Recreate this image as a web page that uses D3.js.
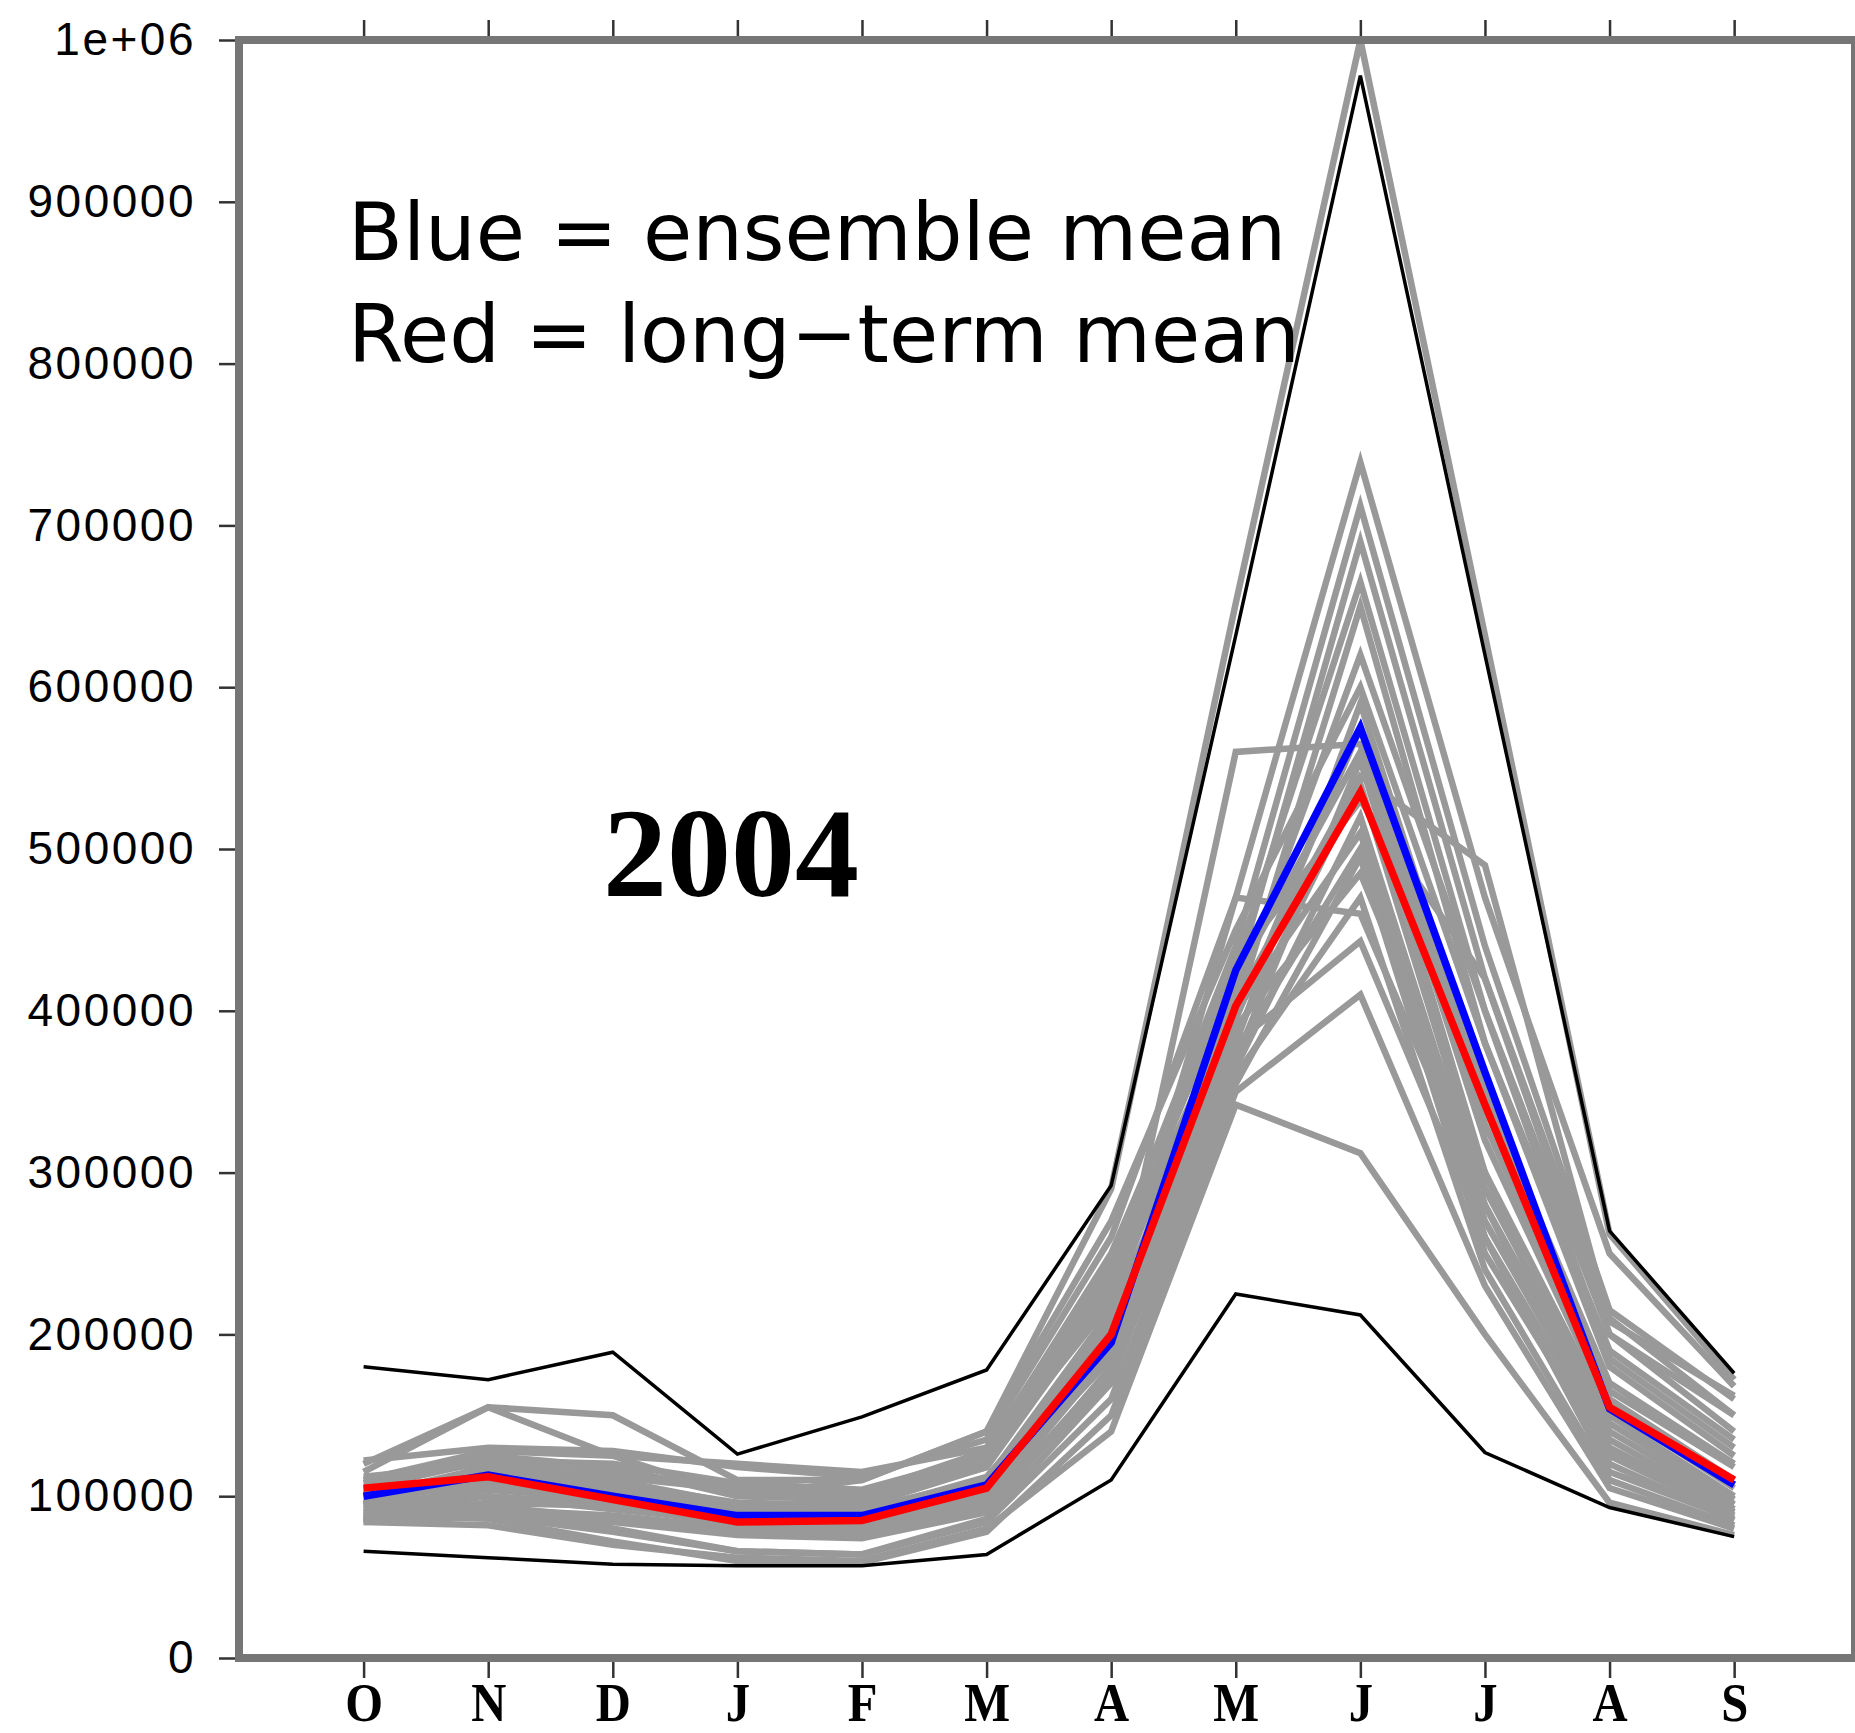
<!DOCTYPE html>
<html>
<head>
<meta charset="utf-8">
<script src="https://cdn.jsdelivr.net/npm/d3@7"></script>
<style>
  body { margin: 0; background: #fff; }
  svg { display: block; }
</style>
</head>
<body>
<svg id="chart" width="1855" height="1733"></svg>
<script>
// month labels, water year Oct..Sep
const months = ["O", "N", "D", "J", "F", "M", "A", "M", "J", "J", "A", "S"];
const yTicks = [0, 100000, 200000, 300000, 400000, 500000, 600000, 700000, 800000, 900000, 1000000];

// values in thousands
const ensembleMean = [100, 113, 100, 88, 88, 107, 195, 425, 575, 362, 154, 107];
const longTermMean = [105, 112, 98, 84, 85, 105, 200, 403, 535, 342, 155, 110];
const histMax = [180, 172, 189, 126, 149, 178, 292, 632, 978, 620, 264, 176];
const histMin = [66, 62, 58, 57, 57, 64, 110, 225, 212, 127, 93, 75];

// ensemble members (grey)
const members = [
  [120, 155, 150, 110, 110, 140, 290, 652, 1000, 632, 262, 172],
  [122, 130, 128, 118, 112, 135, 260, 470, 739, 470, 250, 168],
  [110, 128, 125, 120, 115, 130, 245, 440, 712, 440, 215, 160],
  [105, 122, 120, 108, 104, 125, 240, 420, 690, 420, 210, 150],
  [115, 155, 125, 100, 98, 120, 230, 430, 665, 400, 200, 140],
  [95, 115, 110, 95, 96, 118, 225, 400, 650, 380, 190, 135],
  [100, 118, 112, 104, 100, 124, 220, 410, 620, 400, 185, 130],
  [108, 125, 118, 100, 110, 140, 270, 450, 600, 380, 180, 125],
  [90, 100, 95, 88, 92, 110, 215, 380, 590, 350, 170, 120],
  [92, 105, 100, 90, 86, 102, 210, 395, 575, 340, 165, 118],
  [88, 96, 94, 82, 84, 98, 205, 560, 565, 330, 160, 110],
  [96, 110, 105, 93, 90, 112, 200, 420, 560, 320, 155, 105],
  [85, 92, 88, 80, 78, 95, 195, 370, 555, 300, 150, 100],
  [102, 112, 108, 96, 94, 118, 235, 405, 545, 490, 208, 162],
  [94, 104, 98, 86, 82, 100, 190, 385, 540, 290, 145, 98],
  [112, 120, 115, 105, 102, 128, 250, 430, 530, 420, 200, 150],
  [86, 90, 84, 76, 74, 90, 180, 365, 520, 280, 140, 95],
  [98, 108, 100, 90, 88, 104, 185, 400, 510, 270, 135, 92],
  [84, 88, 78, 66, 64, 86, 170, 375, 500, 260, 130, 90],
  [90, 94, 86, 78, 76, 92, 175, 355, 495, 250, 125, 88],
  [100, 106, 96, 85, 83, 96, 188, 390, 485, 300, 120, 85],
  [86, 92, 80, 66, 64, 84, 160, 360, 470, 240, 110, 82],
  [95, 100, 92, 84, 80, 94, 178, 380, 443, 260, 115, 86],
  [88, 86, 72, 60, 59, 78, 150, 350, 410, 230, 105, 80],
  [84, 82, 70, 62, 60, 80, 140, 342, 312, 200, 96, 76],
  [104, 112, 104, 92, 90, 108, 210, 470, 460, 280, 128, 95]
];

const svg = d3.select("#chart");
const x = d3.scaleLinear().domain([0, 12.97]).range([239, 1855]);
const y = d3.scaleLinear().domain([0, 1000000]).range([1658, 40]);

const line = d3.line()
  .x((d, i) => x(i + 1))
  .y(d => y(d * 1000));

svg.append("rect").attr("width", 1855).attr("height", 1733).attr("fill", "#fff");

let plot = svg.append("g");
plot.selectAll(".member").data(members).enter().append("path")
  .attr("class", "member")
  .attr("d", line)
  .attr("fill", "none")
  .attr("stroke", "#999")
  .attr("stroke-width", 6.5);

plot.selectAll(".hist").data([histMax, histMin]).enter().append("path")
  .attr("class", "hist")
  .attr("d", line)
  .attr("fill", "none")
  .attr("stroke", "#000")
  .attr("stroke-width", 3.5);

plot.append("path").attr("d", line(ensembleMean))
  .attr("fill", "none").attr("stroke", "#0000ff").attr("stroke-width", 7.5);
plot.append("path").attr("d", line(longTermMean))
  .attr("fill", "none").attr("stroke", "#ff0000").attr("stroke-width", 7.5);

// axes: ticks from d3, frame drawn separately
let yAxis = d3.axisLeft(y).tickValues(yTicks).tickSize(20).tickPadding(23)
  .tickFormat(d => d === 1000000 ? "1e+06" : d3.format("d")(d));
let yAxisGrp = svg.append("g").attr("transform", "translate(239,0)").call(yAxis);
yAxisGrp.select(".domain").remove();
yAxisGrp.selectAll("line").attr("stroke", "#333").attr("stroke-width", 2.5);
yAxisGrp.selectAll("text")
  .style("font-family", "'Liberation Sans', Arial, sans-serif")
  .style("font-size", "46px")
  .style("letter-spacing", "2.5px")
  .attr("fill", "#000");

let xAxis = d3.axisBottom(x).tickValues(d3.range(1, 13)).tickSize(20).tickPadding(5)
  .tickFormat((d, i) => months[i]);
let xAxisGrp = svg.append("g").attr("transform", "translate(0,1658)").call(xAxis);
xAxisGrp.select(".domain").remove();
xAxisGrp.selectAll("line").attr("stroke", "#333").attr("stroke-width", 2.5);
xAxisGrp.selectAll("text")
  .style("font-family", "'Liberation Serif', 'Times New Roman', serif")
  .style("font-weight", "bold")
  .style("font-size", "54px")
  .attr("fill", "#000")
  .attr("transform", "scale(0.9,1)");

let topAxis = d3.axisTop(x).tickValues(d3.range(1, 13)).tickSize(20).tickFormat("");
let topGrp = svg.append("g").attr("transform", "translate(0,40)").call(topAxis);
topGrp.select(".domain").remove();
topGrp.selectAll("line").attr("stroke", "#333").attr("stroke-width", 2.5);

// frame
const frame = svg.append("g").attr("stroke", "#767676").attr("stroke-width", 8).attr("fill", "none");
frame.append("line").attr("x1", x(0)).attr("x2", x(0)).attr("y1", 36).attr("y2", 1662);
frame.append("line").attr("x1", x(0)).attr("x2", 1855).attr("y1", y(1000000)).attr("y2", y(1000000));
frame.append("line").attr("x1", x(0)).attr("x2", 1855).attr("y1", y(0)).attr("y2", y(0));
frame.append("line").attr("x1", 1855).attr("x2", 1855).attr("y1", 36).attr("y2", 1662);

// annotations
svg.append("text").attr("x", 348).attr("y", 260)
  .style("font-family", "'DejaVu Sans', sans-serif").style("font-size", "80px")
  .text("Blue = ensemble mean");
svg.append("text").attr("x", 348).attr("y", 362)
  .style("font-family", "'DejaVu Sans', sans-serif").style("font-size", "80px")
  .text("Red = long\u2212term mean");
svg.append("text").attr("x", 603).attr("y", 896)
  .style("font-family", "'Liberation Serif', 'Times New Roman', serif")
  .style("font-weight", "bold").style("font-size", "128px")
  .text("2004");
</script>
</body>
</html>
